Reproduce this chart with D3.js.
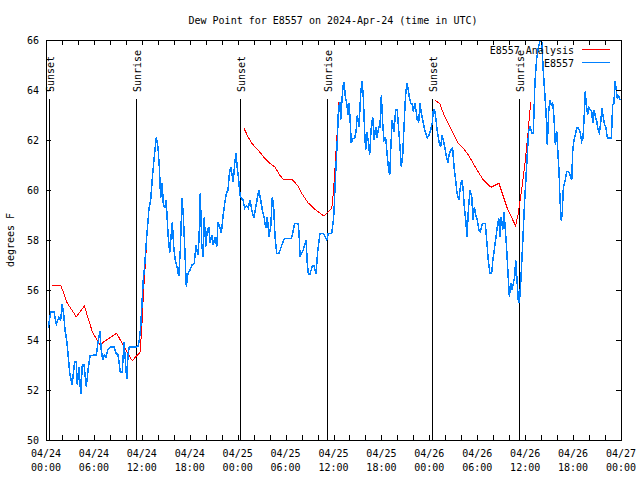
<!DOCTYPE html>
<html><head><meta charset="utf-8">
<script src="https://cdn.jsdelivr.net/npm/d3@7"></script>
<style>
html,body{margin:0;padding:0;background:#fff;}
svg{display:block;background:#fff;}
text{font-family:"DejaVu Sans Mono",monospace;font-size:10px;fill:#000;}
</style></head><body>
<svg id="chart" width="640" height="480"></svg>
<script>
const chartTitle = "Dew Point for E8557 on 2024-Apr-24 (time in UTC)";
const yAxisLabel = "degrees F";
const seriesNames = ["E8557 Analysis", "E8557"];
const seriesColors = ["#ff0000", "#0080ff"];
const yTickValues = [50, 52, 54, 56, 58, 60, 62, 64, 66];
const xLabelHours = [0, 6, 12, 18, 24, 30, 36, 42, 48, 54, 60, 66, 72];
const startUTC = Date.UTC(2024, 3, 24, 0, 0);
const sunLabels = ["Sunset", "Sunrise", "Sunset", "Sunrise", "Sunset", "Sunrise"];
const sunHours = [0.41, 11.30, 24.33, 35.22, 48.37, 59.27];

// Analysis series (hours after 04/24 00:00 UTC), null = gap
const analysisHours = [0.79,1.84,2.67,3.79,4.80,5.80,6.76,7.26,8.85,9.77,10.80,11.33,11.77,11.98,12.18,12.31,12.48,12.61,12.77,
  18.0,
  24.79,25.29,25.76,26.55,27.39,28.01,28.64,29.26,29.80,30.30,30.80,31.56,31.89,32.81,33.77,34.81,35.78,35.98,36.15,36.35,36.53,36.69,
  42.0,
  48.71,49.34,49.75,50.59,51.63,52.26,52.89,53.73,54.76,55.72,56.72,57.76,58.81,59.14,59.56,59.98,60.39,60.69];
const analysisValues = [56.2,56.2,55.47,54.93,55.36,54.33,53.8,53.93,54.27,53.73,53.17,53.36,53.49,54.4,55.73,56.47,57.2,58.07,58.73,
  null,
  62.47,62.13,61.87,61.6,61.27,61.07,60.93,60.6,60.4,60.43,60.43,60.16,59.93,59.49,59.2,58.96,59.27,59.87,60.67,61.73,62.67,63.53,
  null,
  63.6,63.44,63.07,62.53,61.87,61.67,61.4,60.93,60.4,60.11,60.27,59.27,58.56,59.07,60.0,61.07,62.4,63.53];

// Observed series
const obsHours = [0.29,0.59,1.00,1.29,1.59,1.84,2.04,2.25,2.38,2.59,
2.75,2.97,3.26,3.59,3.79,3.92,4.13,4.35,4.55,4.76,
5.05,5.30,5.51,6.01,6.30,6.51,6.76,6.92,7.10,7.30,
7.51,7.73,8.10,8.52,8.77,9.02,9.30,9.55,9.77,9.93,
10.11,10.27,10.43,10.81,11.27,11.52,11.68,11.86,12.02,12.18,
12.36,12.52,12.68,12.90,13.11,13.31,13.52,13.81,14.02,14.19,
14.36,14.53,14.69,14.86,15.03,15.19,15.28,15.49,15.69,15.82,
15.99,16.19,16.40,16.62,16.82,17.03,17.19,17.37,17.57,17.78,
18.03,18.28,18.57,18.78,19.00,19.16,19.32,19.50,19.66,19.82,
20.00,20.20,20.37,20.57,20.75,20.95,21.16,21.38,21.54,21.75,
21.95,22.16,22.38,22.58,22.79,22.95,23.13,23.29,23.45,23.63,
23.79,23.95,24.13,24.29,24.46,24.67,24.88,25.13,25.33,25.54,
25.76,26.01,26.21,26.46,26.67,26.88,27.09,27.30,27.51,27.71,
27.92,28.14,28.34,28.51,28.68,28.89,29.18,29.46,29.68,29.89,
30.72,30.93,31.14,31.56,31.68,31.81,32.22,32.56,32.72,32.85,
33.06,33.35,33.56,33.81,34.02,34.31,34.72,35.15,35.35,35.78,
35.98,36.06,36.19,36.35,36.48,36.60,36.78,36.90,37.03,37.19,
37.32,37.48,37.65,37.82,37.94,38.07,38.23,38.44,38.65,38.82,
38.98,39.19,39.41,39.57,39.73,39.91,40.03,40.20,40.36,40.53,
40.70,40.91,41.08,41.29,41.45,41.66,41.82,41.99,42.16,42.32,
42.54,42.74,42.91,43.04,43.20,43.36,43.57,43.79,43.99,44.16,
44.33,44.49,44.66,44.83,44.99,45.17,45.33,45.49,45.67,45.83,
46.00,46.17,46.33,46.49,46.67,46.83,47.00,47.18,47.33,47.54,
47.74,47.95,48.17,48.37,48.50,48.67,48.84,49.00,49.21,49.42,
49.59,49.75,49.96,50.18,50.34,50.50,50.71,50.92,51.09,51.30,
51.46,51.68,51.84,52.05,52.21,52.38,52.56,52.72,52.89,53.10,
53.31,53.47,53.64,53.85,54.01,54.22,54.38,54.59,54.76,55.01,
55.18,55.38,55.59,55.80,55.96,56.18,56.35,56.51,56.69,56.85,
57.01,57.19,57.35,57.52,57.69,57.85,58.02,58.19,58.35,58.52,
58.69,58.81,58.98,59.14,59.27,59.44,59.61,59.77,59.94,60.11,
60.27,60.44,60.61,60.82,61.02,61.23,61.45,61.65,61.86,62.07,
62.27,62.48,62.61,62.77,62.95,63.11,63.27,63.45,63.61,63.78,
63.95,64.11,64.24,64.36,64.53,64.65,64.78,64.99,65.20,65.40,
65.61,65.83,65.95,66.11,66.28,66.45,66.65,66.86,67.08,67.24,
67.40,67.53,67.65,67.83,67.99,68.16,68.33,68.46,68.62,68.79,
68.96,69.13,69.29,69.46,69.62,69.79,69.96,70.12,70.29,70.46,
70.79,70.96,71.12,71.25,71.37,71.54,71.71,71.88];
const obsValues = [54.5,55.13,55.13,54.64,54.9,54.8,55.43,54.93,54.4,54.0,
53.48,52.67,52.2,53.13,53.13,52.2,52.9,51.84,53.0,53.0,
52.13,52.9,53.36,53.4,53.4,53.9,54.37,53.6,53.2,53.4,
53.3,53.6,53.72,53.72,53.48,53.4,52.73,52.73,53.93,53.2,
52.43,53.4,53.72,53.72,53.72,53.75,54.0,54.53,55.47,56.4,
57.0,57.73,58.4,59.27,59.6,60.47,61.2,62.1,61.73,60.93,
59.67,60.27,59.47,59.27,59.6,58.8,58.24,57.5,58.27,58.73,
57.73,57.2,56.93,56.56,57.6,59.67,59.0,57.73,56.13,56.67,
56.8,57.0,57.07,57.8,57.4,58.0,59.87,57.87,57.33,58.93,
57.73,58.4,58.53,57.87,58.2,57.8,58.13,57.73,58.73,58.53,
58.27,58.93,59.47,59.87,60.0,60.6,60.93,60.6,60.33,61.07,
61.49,60.87,60.4,59.8,59.67,59.6,59.27,59.37,59.27,59.6,
59.2,58.87,59.2,59.67,60.0,59.6,59.2,58.93,58.47,58.93,
58.13,58.53,59.73,59.33,58.13,57.47,57.47,57.73,57.93,58.07,
58.07,58.33,58.67,58.67,58.33,57.33,57.6,58.0,57.07,56.64,
56.64,56.97,56.97,56.64,57.53,58.27,58.27,58.0,58.27,58.27,
58.8,59.07,60.13,61.2,62.0,63.07,63.53,62.8,63.47,64.13,
64.33,63.73,63.47,63.0,63.47,62.87,61.87,62.07,62.07,62.33,
63.0,62.53,63.87,64.37,63.73,62.27,61.6,62.3,61.93,61.4,
62.4,62.93,62.0,62.53,62.07,62.53,62.53,63.8,62.67,62.0,
62.07,61.33,60.8,60.6,61.87,62.8,62.33,63.2,63.2,62.4,
61.73,60.93,61.33,62.53,63.6,64.27,64.07,63.73,63.47,63.47,
63.13,63.47,63.2,62.8,62.73,63.47,63.07,62.8,62.53,62.27,
62.07,62.2,62.4,62.67,63.2,63.2,62.8,62.33,61.93,61.73,
62.2,62.0,61.67,61.27,61.07,61.47,61.6,61.67,60.93,60.4,
59.87,59.6,60.0,60.4,60.13,59.33,58.8,58.13,59.2,60.0,
59.73,58.8,59.33,58.93,58.8,58.4,58.33,58.6,58.67,58.67,
58.0,57.2,56.67,56.67,57.2,57.73,58.13,58.53,58.87,58.13,
58.93,58.4,59.13,58.4,57.6,56.67,55.73,56.27,56.0,56.27,
56.53,57.2,56.4,55.6,55.47,56.27,57.33,58.4,59.6,60.53,
61.47,62.33,62.55,62.28,62.28,64.35,65.28,65.68,65.95,65.95,
64.75,63.75,63.15,61.81,63.15,63.61,63.41,63.48,62.88,61.81,
62.35,61.41,60.75,59.61,58.75,59.15,60.08,60.35,60.75,60.75,
60.61,60.41,61.55,62.01,62.21,62.48,62.48,62.35,61.95,62.08,
63.01,63.95,63.41,63.01,63.28,63.21,63.15,62.68,63.21,62.95,
62.75,62.41,62.28,62.68,63.28,62.88,62.61,62.48,62.08,62.08,
62.08,63.41,63.48,64.35,64.08,63.68,63.75,63.61];

const HOUR = 3600 * 1000;
const toDate = h => new Date(startUTC + h * HOUR);

const svg = d3.select("#chart");
const L = 46, R = 621, T = 40, B = 440;

const x = d3.scaleUtc().domain([toDate(0), toDate(72)]).range([L, R]);
const y = d3.scaleLinear().domain([50, 66]).range([B, T]);

const plot = svg.append("g");

// Sunrise / sunset markers
const sunTopFrac = 0.8525;
sunHours.forEach((h, i) => {
  const px = Math.round(x(toDate(h))) + 0.5;
  const yTop = B - (B - T) * sunTopFrac;
  plot.append("line").attr("x1", px).attr("x2", px).attr("y1", B).attr("y2", yTop)
    .attr("stroke", "#000").attr("stroke-width", 1).attr("shape-rendering", "crispEdges");
  plot.append("text").attr("transform", `translate(${px + 1},${yTop - 7}) rotate(-90)`)
    .attr("dy", "0.35em").attr("text-anchor", "start").text(sunLabels[i]);
});

// Lines
const analysisData = analysisHours.map((h, i) => ({t: toDate(h), v: analysisValues[i]}));
const obsData = obsHours.map((h, i) => ({t: toDate(h), v: obsValues[i]}));
const lineGen = d3.line().defined(d => d.v !== null).x(d => x(d.t)).y(d => y(d.v));

plot.append("path").datum(analysisData).attr("d", lineGen)
  .attr("fill", "none").attr("stroke", seriesColors[0]).attr("stroke-width", 1)
  .attr("shape-rendering", "crispEdges");
plot.append("path").datum(obsData).attr("d", lineGen)
  .attr("fill", "none").attr("stroke", seriesColors[1]).attr("stroke-width", 1.5)
  .attr("stroke-linejoin", "miter").attr("shape-rendering", "crispEdges");

// Frame
svg.append("rect").attr("x", L + 0.5).attr("y", T + 0.5).attr("width", R - L).attr("height", B - T)
  .attr("fill", "none").attr("stroke", "#000").attr("stroke-width", 1).attr("shape-rendering", "crispEdges");

const tickLen = 5;
// X ticks (every 2 hours), top and bottom, inward
const minorTicks = d3.range(0, 73, 2).map(toDate);
const axG = svg.append("g").attr("shape-rendering", "crispEdges").attr("stroke", "#000");
minorTicks.forEach(d => {
  const px = Math.round(x(d)) + 0.5;
  axG.append("line").attr("x1", px).attr("x2", px).attr("y1", B).attr("y2", B - tickLen);
  axG.append("line").attr("x1", px).attr("x2", px).attr("y1", T).attr("y2", T + tickLen);
});
// Y ticks left and right
yTickValues.forEach(v => {
  const py = Math.round(y(v)) + 0.5;
  axG.append("line").attr("x1", L).attr("x2", L + tickLen).attr("y1", py).attr("y2", py);
  axG.append("line").attr("x1", R).attr("x2", R - tickLen).attr("y1", py).attr("y2", py);
});

// X tick labels
const fmtDay = d3.utcFormat("%m/%d"), fmtTime = d3.utcFormat("%H:%M");
xLabelHours.forEach(h => {
  const d = toDate(h), px = x(d);
  svg.append("text").attr("x", px).attr("y", 457).attr("text-anchor", "middle").text(fmtDay(d));
  svg.append("text").attr("x", px).attr("y", 471).attr("text-anchor", "middle").text(fmtTime(d));
});
// Y tick labels
yTickValues.forEach(v => {
  svg.append("text").attr("x", 39).attr("y", y(v)).attr("dy", "0.35em").attr("text-anchor", "end").text(v);
});

// Title and axis label
svg.append("text").attr("x", 333).attr("y", 24).attr("text-anchor", "middle").text(chartTitle);
svg.append("text").attr("transform", "translate(10,240) rotate(-90)").attr("dy", "0.35em")
  .attr("text-anchor", "middle").text(yAxisLabel);

// Legend
seriesNames.forEach((name, i) => {
  const ly = 50 + i * 13;
  svg.append("text").attr("x", 574).attr("y", ly).attr("dy", "0.35em").attr("text-anchor", "end").text(name);
  svg.append("line").attr("x1", 582).attr("x2", 610).attr("y1", ly - 0.5).attr("y2", ly - 0.5)
    .attr("stroke", seriesColors[i]).attr("stroke-width", 1).attr("shape-rendering", "crispEdges");
});
</script>
</body></html>
